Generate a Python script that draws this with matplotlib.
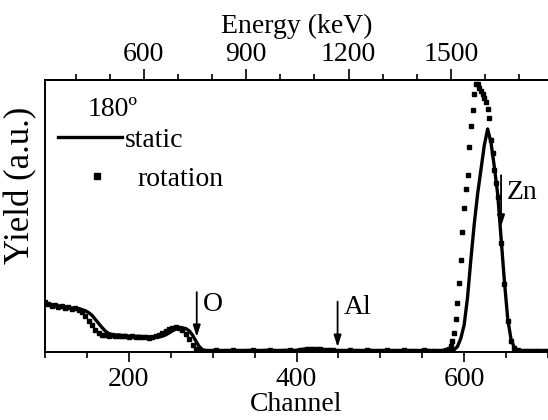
import matplotlib
matplotlib.use("Agg")
import matplotlib.pyplot as plt
import numpy as np

# --- RBS spectra, 180 deg ---
# static: every 4 channels, 100..700
static_ch = np.arange(100, 701, 4)
static_y = [
    0.178, 0.172, 0.175, 0.168, 0.170, 0.165, 0.166, 0.160, 0.162, 0.158,
    0.160, 0.156, 0.152, 0.145, 0.135, 0.120, 0.105, 0.090, 0.077, 0.068,
    0.064, 0.062, 0.063, 0.060, 0.061, 0.058, 0.059, 0.057, 0.058, 0.056,
    0.057, 0.055, 0.056, 0.054, 0.056, 0.058, 0.063, 0.070, 0.078, 0.084,
    0.088, 0.089, 0.086, 0.078, 0.062, 0.040, 0.020, 0.008,
    # 292..400
    0.005, 0.004, 0.005, 0.006, 0.005, 0.004, 0.005, 0.005, 0.006, 0.005,
    0.004, 0.005, 0.005, 0.006, 0.005, 0.005, 0.004, 0.005, 0.006, 0.005,
    0.005, 0.004, 0.005, 0.005, 0.006, 0.005, 0.005, 0.006,
    # 404..440
    0.008, 0.010, 0.011, 0.012, 0.012, 0.011, 0.010, 0.009, 0.008, 0.007,
    # 444..576
    0.006, 0.005, 0.005, 0.004, 0.005, 0.006, 0.005, 0.005, 0.004, 0.005,
    0.005, 0.006, 0.005, 0.004, 0.005, 0.005, 0.006, 0.005, 0.005, 0.004,
    0.005, 0.005, 0.006, 0.005, 0.005, 0.004, 0.005, 0.005, 0.006, 0.005,
    0.005, 0.005, 0.005, 0.006,
    # 580..700
    0.006, 0.007, 0.008, 0.020, 0.050, 0.100, 0.200, 0.340, 0.470, 0.580,
    0.670, 0.760, 0.820, 0.770, 0.680, 0.580, 0.420, 0.260, 0.120, 0.045,
    0.015, 0.007, 0.005, 0.005, 0.005, 0.005, 0.005, 0.005, 0.005, 0.005,
    0.005,
]

# rotation: every 4 channels, every 2nd channel across the Zn peak
rot_ch = np.concatenate([np.arange(100, 577, 4), np.arange(578, 641, 2), np.arange(644, 701, 4)])
rot_y = [
    0.182, 0.176, 0.170, 0.174, 0.166, 0.168, 0.162, 0.164, 0.158, 0.160,
    0.154, 0.146, 0.132, 0.115, 0.098, 0.082, 0.070, 0.064, 0.062, 0.060,
    0.061, 0.059, 0.060, 0.057, 0.058, 0.056, 0.057, 0.055, 0.056, 0.054,
    0.055, 0.053, 0.055, 0.057, 0.062, 0.069, 0.077, 0.084, 0.089, 0.091,
    0.088, 0.080, 0.066, 0.046, 0.026, 0.012, 0.006,
    # 288..400
    0.005, 0.005, 0.004, 0.005, 0.006, 0.005, 0.005, 0.004, 0.005, 0.006,
    0.005, 0.005, 0.004, 0.005, 0.005, 0.006, 0.005, 0.004, 0.005, 0.005,
    0.006, 0.005, 0.005, 0.004, 0.005, 0.005, 0.006, 0.005, 0.005,
    # 404..440
    0.008, 0.009, 0.011, 0.012, 0.012, 0.011, 0.010, 0.009, 0.008, 0.007,
    # 444..576
    0.006, 0.005, 0.004, 0.005, 0.005, 0.006, 0.005, 0.005, 0.004, 0.005,
    0.006, 0.005, 0.005, 0.004, 0.005, 0.005, 0.006, 0.005, 0.005, 0.004,
    0.005, 0.006, 0.005, 0.005, 0.004, 0.005, 0.005, 0.006, 0.005, 0.005,
    0.004, 0.005, 0.005, 0.005,
    # 578..640
    0.006, 0.008, 0.012, 0.022, 0.040, 0.070, 0.120, 0.180, 0.255, 0.340,
    0.440, 0.530, 0.600, 0.650, 0.755, 0.830, 0.890, 0.950, 0.985, 0.985,
    0.970, 0.958, 0.950, 0.932, 0.918, 0.895, 0.860, 0.780, 0.730, 0.670,
    0.620, 0.570,
    # 644..700
    0.400, 0.250, 0.115, 0.040, 0.013, 0.006, 0.005, 0.005, 0.005, 0.005,
    0.005, 0.005, 0.005, 0.005, 0.005,
]

# element edges: label, channel, arrow tail, arrow tip, label height
edge_names = ["O", "Al", "Zn"]
edge_ch = [281, 449, 644]
edge_tail = [0.22, 0.185, 0.65]
edge_tip = [0.055, 0.018, 0.46]
edge_label_y = [0.176, 0.165, 0.585]

# energy calibration, keV = KEV_PER_CH * channel + KEV_OFFSET
KEV_PER_CH = 2.458
KEV_OFFSET = 64.2

plt.rcParams["font.family"] = ["Liberation Serif", "DejaVu Serif"]
FS = 20

fig = plt.figure(figsize=(5.48, 4.2), dpi=100)
ax = fig.add_axes([45 / 548, 1 - 352 / 420, 503 / 548, 272 / 420])

ln_static, = ax.plot(static_ch, static_y, color="black", lw=2.4)
ln_rot, = ax.plot(rot_ch, rot_y, ls="none", marker="s", ms=2.6, color="black")

for name, ch, tail, tip, ly in zip(edge_names, edge_ch, edge_tail, edge_tip, edge_label_y):
    ax.annotate("", xy=(ch, tip), xytext=(ch, tail),
                arrowprops=dict(arrowstyle="-|>,head_length=0.7,head_width=0.22",
                                color="black", lw=1.3, shrinkA=0, shrinkB=0))
    ax.text(ch + 7, ly, name, fontsize=FS, va="center", ha="left")

ax.set_xlim(100, 700)
ax.set_ylim(0, 1.0)
ax.set_yticks([])
ax.spines["right"].set_visible(False)
for s in ("left", "bottom", "top"):
    ax.spines[s].set_linewidth(1.4)

ax.set_xticks([200, 400, 600])
ax.set_xticks(np.arange(100, 701, 50), minor=True)
ax.tick_params(axis="x", which="major", length=7, width=1.2, labelsize=FS, pad=3.5)
ax.tick_params(axis="x", which="minor", length=4, width=1.2)
ax.set_xlabel("Channel", fontsize=FS, labelpad=0)
ax.set_ylabel("Yield (a.u.)", fontsize=25)
ax.yaxis.set_label_coords(-0.016, 0.612)

top = ax.secondary_xaxis("top", functions=(lambda c: KEV_PER_CH * c + KEV_OFFSET,
                                           lambda e: (e - KEV_OFFSET) / KEV_PER_CH))
top.set_xticks([600, 900, 1200, 1500])
top.set_xticks(np.arange(400, 1800, 100), minor=True)
top.tick_params(axis="x", which="major", length=8, width=1.2, labelsize=FS, pad=1.5)
top.tick_params(axis="x", which="minor", length=4, width=1.2)
top.spines["top"].set_linewidth(1.4)
top.set_xlabel("Energy (keV)", fontsize=FS, labelpad=6)

ax.text(0.085, 0.89, "180º", transform=ax.transAxes, fontsize=FS, va="center", ha="left")
leg_kw = dict(loc="center left", frameon=False, fontsize=FS, handlelength=2.3,
              numpoints=1, borderaxespad=0.0, borderpad=0.0)
leg1 = ax.legend([ln_static], ["static"], bbox_to_anchor=(0.026, 0.78),
                 handletextpad=0.1, **leg_kw)
ax.add_artist(leg1)
ax.legend([ln_rot], ["rotation"], bbox_to_anchor=(0.04, 0.635),
          handletextpad=0.29, markerscale=1.5, **leg_kw)

fig.savefig("out.png", dpi=100)
